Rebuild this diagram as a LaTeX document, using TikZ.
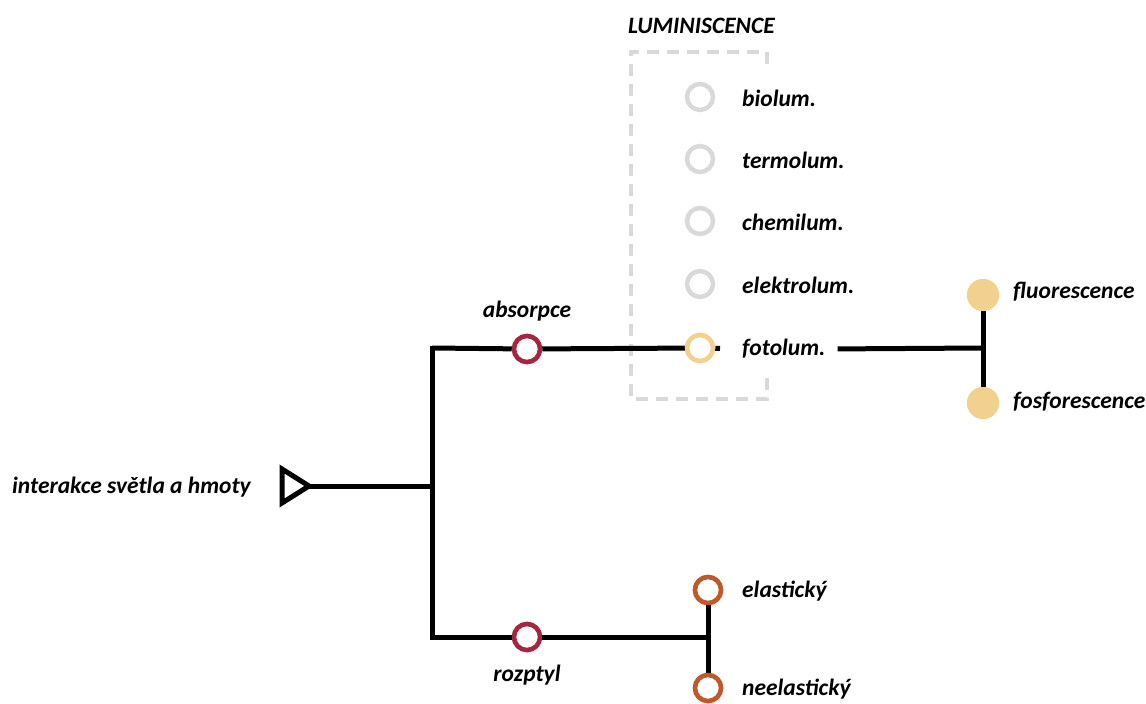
\documentclass[tikz,border=0pt]{standalone}
\usepackage{fontspec}
\setmainfont{Carlito}
\begin{document}
\begin{tikzpicture}[x=1pt,y=-1pt,
  ln/.style={line width=5pt, black},
  lbl/.style={font=\bfseries\itshape\fontsize{23.5}{26}\selectfont, inner sep=0pt, text=black},
  ring/.style={circle, draw, fill=white, line width=4.5pt, minimum size=26pt, inner sep=0pt},
  dot/.style={circle, fill=tan, minimum size=32pt, inner sep=0pt},
  redring/.style={ring, draw=wine},
  orring/.style={ring, draw=rust},
  grayring/.style={ring, draw=lightgray},
  tanring/.style={ring, draw=tan},
]
\definecolor{wine}{HTML}{A3283D}
\definecolor{rust}{HTML}{C0582A}
\definecolor{tan}{HTML}{F2D18E}
\definecolor{lightgray}{HTML}{D9D9D9}
\useasboundingbox (0,0) rectangle (1146,704);

% luminiscence frame (its right side is only drawn at the corners)
\draw[lightgray, line width=4pt, dash pattern=on 12pt off 8pt]
  (767,64) -- (767,52) -- (631,52) -- (631,399) -- (767,399) -- (767,372);
\node[lbl, anchor=south west] (lumi) at (628,34) {LUMINISCENCE};

% source
\coordinate (src) at (309,486);
\draw[ln, line join=miter] (282,469) -- (src) -- (282,503) -- cycle;
\coordinate (j1) at (432,486);
\coordinate (jtop) at (432,348);
\coordinate (jbot) at (432,637);
\node[lbl, anchor=east] (inter) at (251,487) {interakce světla a hmoty};

% branch nodes
\node[redring] (abs) at (527,349) {};
\node[redring] (roz) at (527,637) {};
\node[tanring] (fot) at (700,348) {};
\node[lbl, anchor=west] (fotl) at (742,349) {fotolum.};
\coordinate (jf) at (983,348);
\coordinate (jr) at (708,637);
\node[orring] (ela) at (708,590) {};
\node[orring] (nee) at (708,688) {};
\node[dot] (flu) at (983,295) {};
\node[dot] (fos) at (983,403) {};

% connectors
\draw[ln] (src) -- (j1);
\draw[ln, line cap=rect] (jtop) -- (jbot);
\draw[ln] (jtop) -- (abs);
\draw[ln] (abs) -- (fot);
\draw[ln, shorten >=22pt] (fot) -- (fotl.west);
\draw[ln, shorten <=12pt] (fotl.east) -- (jf);
\draw[ln] (flu) -- (fos);
\draw[ln] (jbot) -- (roz);
\draw[ln] (roz) -- (jr);
\draw[ln] (ela) -- (nee);

% redraw rings above the lines
\node[redring] at (abs) {};
\node[redring] at (roz) {};
\node[tanring] at (fot) {};
\node[orring] at (ela) {};
\node[orring] at (nee) {};
\node[dot] at (flu) {};
\node[dot] at (fos) {};

% grey luminiscence kinds
\node[grayring] (bio) at (700,97) {};
\node[grayring] (ter) at (700,159) {};
\node[grayring] (che) at (700,221) {};
\node[grayring] (ele) at (700,284) {};
\node[lbl, anchor=west] (biol) at (742,98) {biolum.};
\node[lbl, anchor=west] (terl) at (742,160) {termolum.};
\node[lbl, anchor=west] (chel) at (742,222) {chemilum.};
\node[lbl, anchor=west] (elel) at (742,285) {elektrolum.};

% labels
\node[lbl] (absl) at (527,311) {absorpce};
\node[lbl] (rozl) at (527,675) {rozptyl};
\node[lbl, anchor=west] (elal) at (742,591) {elastický};
\node[lbl, anchor=west] (neel) at (742,689) {neelastický};
\node[lbl, anchor=west] (flul) at (1013,292) {fluorescence};
\node[lbl, anchor=west] (fosl) at (1013,402) {fosforescence};
\end{tikzpicture}
\end{document}
